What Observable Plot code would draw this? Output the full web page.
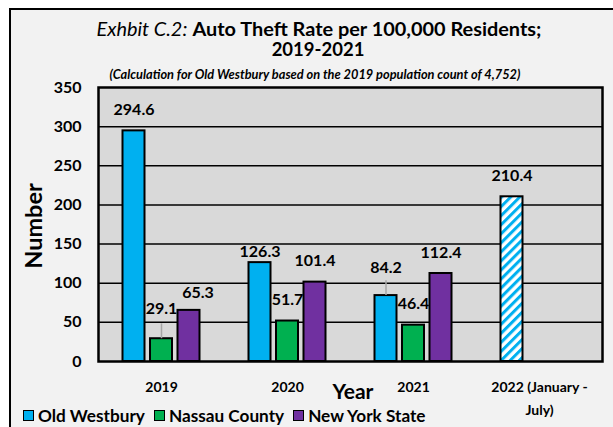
<!DOCTYPE html>
<html>
<head>
<meta charset="utf-8">
<script src="https://cdn.jsdelivr.net/npm/d3@7"></script>
<script src="https://cdn.jsdelivr.net/npm/@observablehq/plot@0.6"></script>
<style>
  html, body { margin: 0; padding: 0; background: #ffffff; }
  #wrap { position: relative; width: 613px; height: 427px; overflow: hidden; font-family: Lato, "Open Sans", sans-serif; }
  #panel { position: absolute; left: 9px; top: 8px; width: 620px; height: 430px; background: #f2f2f2; border-left: 2px solid #000; border-top: 2px solid #000; }
  #chart { position: absolute; left: 0; top: 0; }
  .t1 { position: absolute; left: 0; width: 638px; top: 16px; text-align: center; font-size: 19.9px; color: #000; white-space: nowrap; }
  .t2 { position: absolute; left: 0; width: 636px; top: 38px; text-align: center; font-size: 18.5px; font-weight: bold; color: #000; }
  .sub { position: absolute; left: 0; width: 630px; top: 66px; text-align: center; font-size: 12.8px; font-weight: bold; font-style: italic; color: #000; white-space: nowrap; }
  #legend { position: absolute; left: 23px; top: 405px; font-size: 17.2px; font-weight: bold; color: #000; white-space: nowrap; display: flex; align-items: center; }
  #legend .item { display: flex; align-items: center; margin-right: 9px; }
  #legend .sw { width: 9px; height: 9px; border: 1.5px solid #000; margin-right: 4px; display: inline-block; }
</style>
</head>
<body>
<div id="wrap">
  <div id="panel"></div>
  <div class="t1"><span style="font-style:italic">Exhbit C.2:</span> <b>Auto Theft Rate per 100,000 Residents;</b></div>
  <div class="t2">2019-2021</div>
  <div class="sub">(Calculation for Old Westbury based on the 2019 population count of 4,752)</div>
  <div id="chart"></div>
  <div id="legend"></div>
</div>
<script>
// ---- data ----
const years = ["2019", "2020", "2021", "2022 (January - July)"];
const seriesNames = ["Old Westbury", "Nassau County", "New York State"];
const oldWestbury = [294.6, 126.3, 84.2, 210.4];
const nassauCounty = [29.1, 51.7, 46.4, null];
const newYorkState = [65.3, 101.4, 112.4, null];
const yTicks = [0, 50, 100, 150, 200, 250, 300, 350];
const partialYear = "2022 (January - July)";

// ---- styles ----
const seriesColors = ["#00b0f0", "#00b050", "#7030a0"];
const seriesDx = [-27.5, 0, 27.5];
const labelNudge = {
  "Nassau County|2019": [0, -30],
  "New York State|2019": [9, -18],
  "Old Westbury|2020": [0, -11],
  "Old Westbury|2021": [0, -28]
};
const leaders = ["Nassau County|2019", "Old Westbury|2021"];

const rows = [];
[oldWestbury, nassauCounty, newYorkState].forEach((vals, si) => {
  vals.forEach((v, i) => {
    if (v != null) rows.push({year: years[i], series: seriesNames[si], si, value: v, key: seriesNames[si] + "|" + years[i]});
  });
});

const marks = [
  Plot.frame({fill: "#d9d9d9", stroke: null}),
  Plot.gridY(yTicks.filter(t => t > 0 && t < 350), {stroke: "#000", strokeOpacity: 1, strokeWidth: 1.5})
];

seriesNames.forEach((s, si) => {
  const data = rows.filter(r => r.series === s);
  marks.push(Plot.barY(data.filter(r => r.year !== partialYear), {
    x: "year", y: "value", dx: seriesDx[si], insetLeft: 52, insetRight: 52,
    fill: seriesColors[si], stroke: "#000", strokeWidth: 2
  }));
  const part = data.filter(r => r.year === partialYear);
  if (part.length) marks.push(Plot.barY(part, {
    x: "year", y: "value", dx: seriesDx[si], insetLeft: 52, insetRight: 52,
    fill: "url(#hatch)", stroke: "#000", strokeWidth: 2
  }));
  // leader lines
  const lead = data.filter(r => leaders.includes(r.key));
  if (lead.length) marks.push(Plot.ruleX(lead, {
    x: "year", y1: "value", y2: r => r.value + 19, dx: seriesDx[si], stroke: "#a6a6a6", strokeWidth: 1.5
  }));
  // labels: default and nudged
  const plain = data.filter(r => !labelNudge[r.key]);
  marks.push(Plot.text(plain, {
    x: "year", y: "value", text: r => r.value.toFixed(1), dx: seriesDx[si], dy: -21,
    fontSize: 16, fontWeight: "bold", fill: "#000"
  }));
  data.filter(r => labelNudge[r.key]).forEach(r => {
    const [ndx, ndy] = labelNudge[r.key];
    marks.push(Plot.text([r], {
      x: "year", y: "value", text: d => d.value.toFixed(1), dx: seriesDx[si] + ndx, dy: ndy,
      fontSize: 16, fontWeight: "bold", fill: "#000"
    }));
  });
});

// x category labels
marks.push(Plot.text(years, {
  x: d => d, frameAnchor: "bottom", text: d => d.replace(" - ", " -\n"),
  lineAnchor: "top", dy: 14, lineHeight: 1.65, fontSize: 14, fontWeight: "bold", fill: "#000"
}));

marks.push(Plot.axisY({ticks: yTicks, tickSize: 0, tickPadding: 17, fontSize: 16, fontWeight: "bold", label: null, color: "#000"}));
marks.push(Plot.frame({stroke: "#000", strokeWidth: 2.5}));

const chart = Plot.plot({
  width: 613,
  height: 427,
  marginTop: 87,
  marginLeft: 98,
  marginRight: 11,
  marginBottom: 66,
  style: {background: "transparent", fontFamily: "Lato, 'Open Sans', sans-serif", color: "#000", overflow: "visible"},
  x: {domain: years, padding: 0, axis: null},
  y: {domain: [0, 350], axis: null},
  marks
});

// hatch pattern for partial-year bar
const ns = "http://www.w3.org/2000/svg";
const defs = document.createElementNS(ns, "defs");
defs.innerHTML = `<pattern id="hatch" patternUnits="userSpaceOnUse" width="6.4" height="6.4" patternTransform="rotate(45)">
  <rect width="6.4" height="6.4" fill="#ffffff"></rect>
  <rect width="3" height="6.4" fill="${seriesColors[0]}"></rect>
</pattern>`;
chart.insertBefore(defs, chart.firstChild);

// axis titles as SVG text
const yTitle = document.createElementNS(ns, "text");
yTitle.setAttribute("transform", "translate(33,226) rotate(-90)");
yTitle.setAttribute("text-anchor", "middle");
yTitle.setAttribute("dominant-baseline", "central");
yTitle.setAttribute("font-size", "23.5");
yTitle.setAttribute("font-weight", "bold");
yTitle.textContent = "Number";
chart.appendChild(yTitle);
const xTitle = document.createElementNS(ns, "text");
xTitle.setAttribute("x", "353");
xTitle.setAttribute("y", "390");
xTitle.setAttribute("text-anchor", "middle");
xTitle.setAttribute("dominant-baseline", "central");
xTitle.setAttribute("font-size", "21");
xTitle.setAttribute("font-weight", "bold");
xTitle.textContent = "Year";
chart.appendChild(xTitle);

document.getElementById("chart").appendChild(chart);

// legend
const legend = document.getElementById("legend");
seriesNames.forEach((s, si) => {
  const it = document.createElement("span");
  it.className = "item";
  it.innerHTML = `<span class="sw" style="background:${seriesColors[si]}"></span>${s}`;
  legend.appendChild(it);
});
</script>
</body>
</html>
